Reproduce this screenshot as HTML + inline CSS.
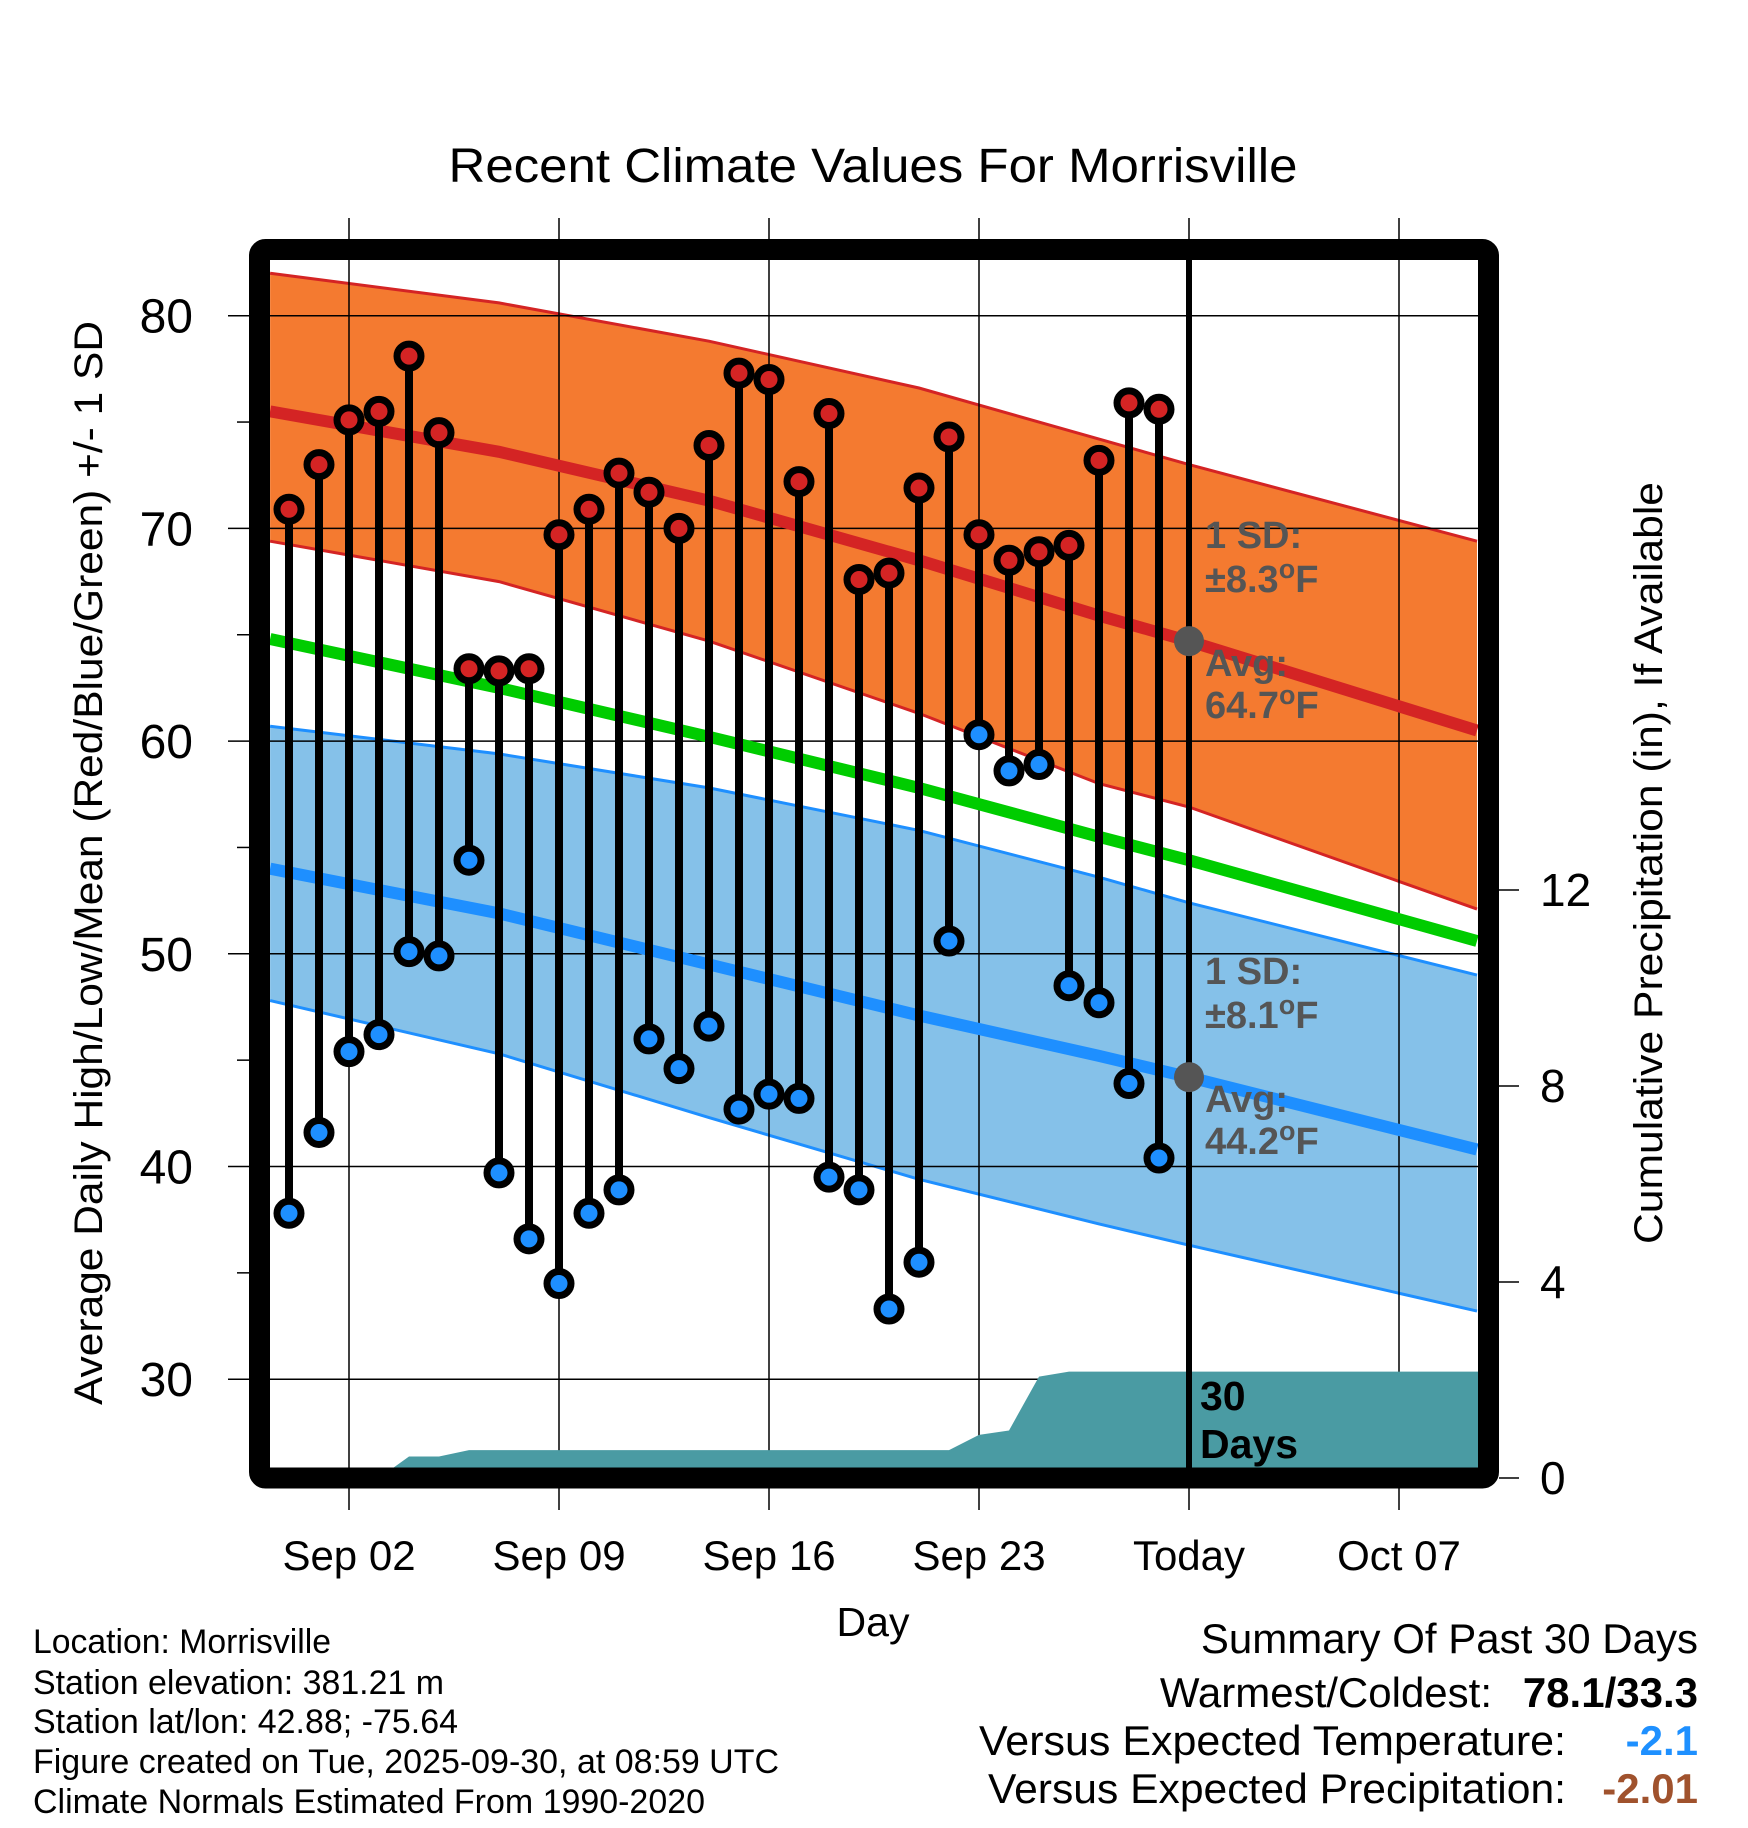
<!DOCTYPE html>
<html><head><meta charset="utf-8"><style>
html,body{margin:0;padding:0;background:#fff}
svg{display:block}
text{font-family:"Liberation Sans",Arial,sans-serif}
</style></head><body>
<svg id="chart" xmlns="http://www.w3.org/2000/svg" width="1748" height="1828" viewBox="0 0 1748 1828">
<rect width="1748" height="1828" fill="#fff"/>
<text x="873" y="182" font-size="48" text-anchor="middle" textLength="849" lengthAdjust="spacingAndGlyphs">Recent Climate Values For Morrisville</text>
<g id="bands"></g>
<g id="grid"></g>
<g id="precip"></g>
<g id="means"></g>
<g id="stems"></g>
<g id="annot"></g>
<g id="axes"></g>
<text transform="translate(102,863) rotate(-90)" font-size="40" text-anchor="middle" textLength="1084" lengthAdjust="spacingAndGlyphs">Average Daily High/Low/Mean (Red/Blue/Green) +/- 1 SD</text>
<text transform="translate(1662,863) rotate(-90)" font-size="40" text-anchor="middle" textLength="762" lengthAdjust="spacingAndGlyphs">Cumulative Precipitation (in), If Available</text>
<text x="873" y="1636" font-size="41" text-anchor="middle">Day</text>
<g font-size="34">
<text x="33" y="1653" textLength="298" lengthAdjust="spacingAndGlyphs">Location: Morrisville</text>
<text x="33" y="1694" textLength="411" lengthAdjust="spacingAndGlyphs">Station elevation: 381.21 m</text>
<text x="33" y="1733" textLength="425" lengthAdjust="spacingAndGlyphs">Station lat/lon: 42.88; -75.64</text>
<text x="33" y="1773" textLength="746" lengthAdjust="spacingAndGlyphs">Figure created on Tue, 2025-09-30, at 08:59 UTC</text>
<text x="33" y="1813" textLength="672" lengthAdjust="spacingAndGlyphs">Climate Normals Estimated From 1990-2020</text>
</g>
<g font-size="42" text-anchor="end">
<text x="1698" y="1653">Summary Of Past 30 Days</text>
<text x="1492" y="1707">Warmest/Coldest:</text>
<text x="1698" y="1707" font-weight="bold">78.1/33.3</text>
<text x="1566" y="1755" textLength="587" lengthAdjust="spacingAndGlyphs">Versus Expected Temperature:</text>
<text x="1698" y="1755" font-weight="bold" fill="#1e90ff">-2.1</text>
<text x="1566" y="1803" textLength="578" lengthAdjust="spacingAndGlyphs">Versus Expected Precipitation:</text>
<text x="1698" y="1803" font-weight="bold" fill="#a0522d">-2.01</text>
</g>
</svg>
<script>
const days = [-2,-1,0,1,2,3,4,5,6,7,8,9,10,11,12,13,14,15,16,17,18,19,20,21,22,23,24,25,26,27];
const highs = [70.9,73.0,75.1,75.5,78.1,74.5,63.4,63.3,63.4,69.7,70.9,72.6,71.7,70.0,73.9,77.3,77.0,72.2,75.4,67.6,67.9,71.9,74.3,69.7,68.5,68.9,69.2,73.2,75.9,75.6];
const lows = [37.8,41.6,45.4,46.2,50.1,49.9,54.4,39.7,36.6,34.5,37.8,38.9,46.0,44.6,46.6,42.7,43.4,43.2,39.5,38.9,33.3,35.5,50.6,60.3,58.6,58.9,48.5,47.7,43.9,40.4];
const precip = [
  0, 0, 0, 0,
  0.44, 0.44,
  0.57, 0.57, 0.57, 0.57, 0.57,
  0.57, 0.57, 0.57, 0.57, 0.57,
  0.57, 0.57, 0.57, 0.57, 0.57,
  0.57, 0.57,
  0.88, 0.97, 2.07,
  2.17, 2.17, 2.17, 2.17
];
const normDays = [-2.63,5,12,19,25,28,37.6];
const highUpper = [82.0,80.6,78.8,76.6,74.2,73.0,69.4];
const highAvg = [75.5,73.6,71.3,68.5,65.9,64.7,60.5];
const highLower = [69.4,67.5,64.7,61.3,58.0,56.9,52.1];
const meanAvg = [64.8,62.5,60.2,57.8,55.5,54.4,50.6];
const lowUpper = [60.7,59.4,57.8,55.8,53.6,52.4,49.0];
const lowAvg = [54.0,51.9,49.5,47.1,45.2,44.2,40.8];
const lowLower = [47.8,45.3,42.3,39.4,37.3,36.3,33.2];
const xTickDays = [0,7,14,21,28,35];
const xTickLabels = ["Sep 02","Sep 09","Sep 16","Sep 23","Today","Oct 07"];
const yTicks = [30,40,50,60,70,80];
const y2Ticks = [0,4,8,12];
const todayDay = 28;

const NS="http://www.w3.org/2000/svg";
const L=270,R=1478,T=260,B=1468;
const X=d=>349+30.0*d;
const Y=v=>315.7+(80-v)*21.27;
const Y2=p=>1478-p*49.0;
function mk(tag,attrs,parent){const e=document.createElementNS(NS,tag);for(const k in attrs)e.setAttribute(k,attrs[k]);parent.appendChild(e);return e;}
const g=id=>document.getElementById(id);

function pts(ds,vs){return ds.map((d,i)=>X(d).toFixed(1)+","+Y(vs[i]).toFixed(1));}
function band(up,lo,fill,edge,name){
  const p=mk('polygon',{points:pts(normDays,up).concat(pts(normDays,lo).reverse()).join(' '),fill:fill},g('bands'));
  
  
  [up,lo].forEach((s,i)=>{const l=mk('polyline',{points:pts(normDays,s).join(' '),fill:'none',stroke:edge,'stroke-width':3},g('bands'));
    
    });
}
band(highUpper,highLower,'#f47a30','#d42424','high-sd-band');
band(lowUpper,lowLower,'#85c1e9','#1e8fff','low-sd-band');
yTicks.forEach(v=>{const l=mk('line',{x1:L,x2:R,y1:Y(v),y2:Y(v),stroke:'#000','stroke-width':1.5},g('grid'));
  
  });
xTickDays.forEach(d=>{const l=mk('line',{x1:X(d),x2:X(d),y1:T,y2:B,stroke:'#000','stroke-width':1.5},g('grid'));
  
  });
(function(){
  let s=[X(days[0])+","+Y2(0)];
  days.forEach((d,i)=>s.push(X(d)+","+Y2(precip[i])));
  s.push(R+","+Y2(precip[precip.length-1]));s.push(R+","+B);s.push(L+","+B);
  const p=mk('polygon',{points:s.join(' '),fill:'#4a9ba3'},g('precip'));
  
  
})();
[[highAvg,'#d42424','avg-high-line'],[meanAvg,'#00cc00','avg-mean-line'],[lowAvg,'#1e8fff','avg-low-line']].forEach(([s,c,n])=>{
  const l=mk('polyline',{points:pts(normDays,s).join(' '),fill:'none',stroke:c,'stroke-width':12},g('means'));
  
  });
(function(){const l=mk('line',{x1:X(todayDay),x2:X(todayDay),y1:239,y2:1488,stroke:'#000','stroke-width':6},g('means'));
  
  })();
days.forEach((d,i)=>{
  const l=mk('line',{x1:X(d),x2:X(d),y1:Y(highs[i]),y2:Y(lows[i]),stroke:'#000','stroke-width':8},g('stems'));
  
  
  const ch=mk('circle',{cx:X(d),cy:Y(highs[i]),r:12,fill:'#d42424',stroke:'#000','stroke-width':7},g('stems'));
  
  
  const cl=mk('circle',{cx:X(d),cy:Y(lows[i]),r:12,fill:'#1e8fff',stroke:'#000','stroke-width':7},g('stems'));
  
  
});
function annot(avg,sd,name){
  const tx=X(todayDay), ty=Y(avg);
  const c=mk('circle',{cx:tx,cy:ty,r:15,fill:'#555'},g('annot'));
  
  
  const t=mk('text',{x:1205,'font-size':38,'font-weight':'bold',fill:'#555'},g('annot'));
  
  
  t.innerHTML=`<tspan x="1205" y="${ty-93}">1 SD:</tspan><tspan x="1205" y="${ty-49}">±${sd}<tspan font-size="27" dy="-14">o</tspan><tspan dy="14">F</tspan></tspan><tspan x="1205" y="${ty+35}">Avg:</tspan><tspan x="1205" y="${ty+77}">${avg.toFixed(1)}<tspan font-size="27" dy="-14">o</tspan><tspan dy="14">F</tspan></tspan>`;
}
annot(highAvg[5],'8.3','high');
annot(lowAvg[5],'8.1','low');
(function(){const t=mk('text',{'font-size':41,'font-weight':'bold',fill:'#000'},g('annot'));
  
  
  t.innerHTML='<tspan x="1200" y="1410">30</tspan><tspan x="1200" y="1458">Days</tspan>';})();
(function(){
  const f=mk('rect',{x:259.5,y:249.5,width:1229,height:1228.5,rx:6,fill:'none',stroke:'#000','stroke-width':21},g('axes'));
  
  
  for(let v=30;v<=80;v+=5){const major=v%10===0;
    const l=mk('line',{x1:major?228:237,x2:249,y1:Y(v),y2:Y(v),stroke:'#000','stroke-width':1.5},g('axes'));
    
    }
  yTicks.forEach(v=>{const t=mk('text',{x:193,y:Y(v)+17,'font-size':48,'text-anchor':'end'},g('axes'));
    
    
    t.textContent=v;});
  xTickDays.forEach((d,i)=>{
    const a=mk('line',{x1:X(d),x2:X(d),y1:218,y2:239,stroke:'#000','stroke-width':1.5},g('axes'));
    
    
    const b=mk('line',{x1:X(d),x2:X(d),y1:1488,y2:1510,stroke:'#000','stroke-width':1.5},g('axes'));
    
    
    const t=mk('text',{x:X(d),y:1570,'font-size':42,'text-anchor':'middle'},g('axes'));
    
    
    t.textContent=xTickLabels[i];});
  y2Ticks.forEach(p=>{
    const l=mk('line',{x1:1499,x2:1519,y1:Y2(p),y2:Y2(p),stroke:'#000','stroke-width':1.5},g('axes'));
    
    
    const t=mk('text',{x:1540,y:Y2(p)+16,'font-size':46},g('axes'));
    
    
    t.textContent=p;});
})();
</script>
</body></html>
